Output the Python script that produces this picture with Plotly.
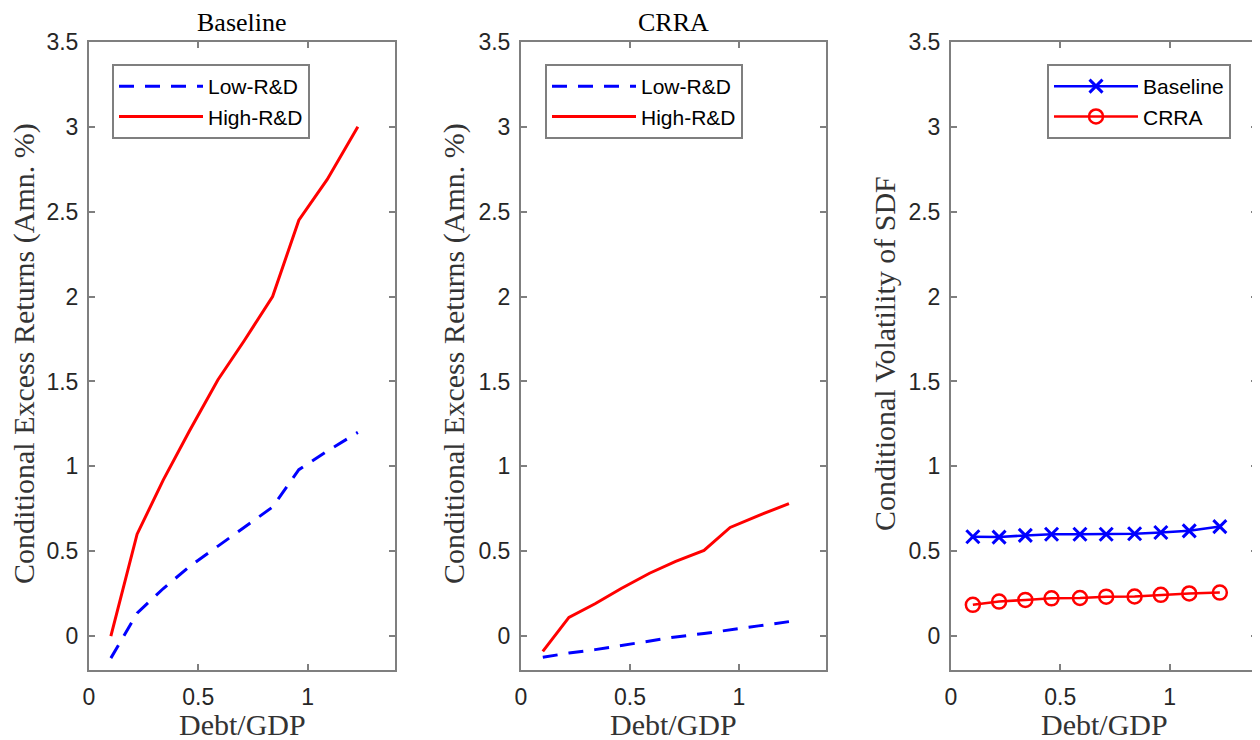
import plotly.graph_objects as go

debt_gdp = [0.10, 0.22, 0.34, 0.46, 0.59, 0.71, 0.84, 0.96, 1.09, 1.23]

# Panel 1: Baseline
base_low = [-0.13, 0.135, 0.28, 0.41, 0.53, 0.64, 0.76, 0.98, 1.09, 1.20]
base_high = [0.00, 0.60, 0.92, 1.21, 1.51, 1.74, 2.00, 2.45, 2.69, 3.00]

# Panel 2: CRRA
crra_low = [-0.125, -0.10, -0.08, -0.055, -0.03, -0.005, 0.015, 0.035, 0.06, 0.085]
crra_high = [-0.09, 0.11, 0.19, 0.28, 0.37, 0.44, 0.505, 0.64, 0.71, 0.78]

# Panel 3: Conditional volatility of SDF
vol_baseline = [0.585, 0.583, 0.593, 0.600, 0.600, 0.600, 0.603, 0.610, 0.620, 0.645]
vol_crra = [0.184, 0.203, 0.213, 0.222, 0.224, 0.232, 0.233, 0.243, 0.251, 0.256]

y_ticks = [0, 0.5, 1, 1.5, 2, 2.5, 3, 3.5]
y_tick_text = ["0", "0.5", "1", "1.5", "2", "2.5", "3", "3.5"]
x_ticks = [0, 0.5, 1]
x_tick_text = ["0", "0.5", "1"]

# page body has an 8px default margin: figure is drawn from (8, 8)
OFF = 8
W, H = 1260 - OFF, 740 - OFF
panels_px = [(89, 395), (521, 826), (951, 1257)]
top_px, bot_px = 42, 670

def px(x):
    return (x - OFF) / W

def py(y):
    return 1 - (y - OFF) / H

AX = "#7f7f7f"
TXT = "#262626"
SANS = "Liberation Sans, Arial, sans-serif"
SERIF = "Liberation Serif, Times New Roman, serif"

fig = go.Figure()

fig.add_trace(go.Scatter(x=debt_gdp, y=base_low, mode="lines", name="Low-R&D",
                         line=dict(color="#0000ff", width=3, dash="15px,11px"),
                         xaxis="x", yaxis="y", legend="legend"))
fig.add_trace(go.Scatter(x=debt_gdp, y=base_high, mode="lines", name="High-R&D",
                         line=dict(color="#ff0000", width=3),
                         xaxis="x", yaxis="y", legend="legend"))
fig.add_trace(go.Scatter(x=debt_gdp, y=crra_low, mode="lines", name="Low-R&D",
                         line=dict(color="#0000ff", width=3, dash="15px,11px"),
                         xaxis="x2", yaxis="y2", legend="legend2"))
fig.add_trace(go.Scatter(x=debt_gdp, y=crra_high, mode="lines", name="High-R&D",
                         line=dict(color="#ff0000", width=3),
                         xaxis="x2", yaxis="y2", legend="legend2"))
fig.add_trace(go.Scatter(x=debt_gdp, y=vol_baseline, mode="lines+markers", name="Baseline",
                         line=dict(color="#0000ff", width=2.5),
                         marker=dict(symbol="x-thin-open", size=13, color="#0000ff",
                                     line=dict(color="#0000ff", width=3)),
                         xaxis="x3", yaxis="y3", legend="legend3"))
fig.add_trace(go.Scatter(x=debt_gdp, y=vol_crra, mode="lines+markers", name="CRRA",
                         line=dict(color="#ff0000", width=2.5),
                         marker=dict(symbol="circle-open", size=14, color="#ff0000",
                                     line=dict(color="#ff0000", width=2.5)),
                         xaxis="x3", yaxis="y3", legend="legend3"))

ydom = [py(bot_px), py(top_px)]

def xaxis_cfg(i):
    l, r = panels_px[i]
    return dict(domain=[px(l), px(r)], range=[0, 1.4], tickvals=x_ticks, ticktext=x_tick_text,
                ticks="inside", ticklen=6, tickwidth=1.5, tickcolor=AX,
                showline=True, linecolor=AX, linewidth=2, mirror="allticks",
                showgrid=False, zeroline=False, ticklabelstandoff=5, automargin=False,
                tickfont=dict(family=SANS, size=23, color=TXT),
                anchor="y" if i == 0 else f"y{i+1}")

def yaxis_cfg(i):
    return dict(domain=ydom, range=[-0.2, 3.5], tickvals=y_ticks, ticktext=y_tick_text,
                ticks="inside", ticklen=6, tickwidth=1.5, tickcolor=AX,
                showline=True, linecolor=AX, linewidth=2, mirror="allticks",
                showgrid=False, zeroline=False, ticklabelstandoff=4, automargin=False,
                tickfont=dict(family=SANS, size=23, color=TXT),
                anchor="x" if i == 0 else f"x{i+1}")

layout = dict(width=W, height=H, margin=dict(l=0, r=0, t=0, b=0, autoexpand=False),
              paper_bgcolor="white", plot_bgcolor="white", showlegend=True)
for i in range(3):
    sfx = "" if i == 0 else str(i + 1)
    layout["xaxis" + sfx] = xaxis_cfg(i)
    layout["yaxis" + sfx] = yaxis_cfg(i)

leg_common = dict(bgcolor="white", bordercolor=AX, borderwidth=2,
                  font=dict(family=SANS, size=21, color="#000"),
                  itemwidth=84, tracegroupgap=0, xanchor="left", yanchor="top")
layout["legend"] = dict(leg_common, x=px(112), y=py(64))
layout["legend2"] = dict(leg_common, x=px(545), y=py(64))
layout["legend3"] = dict(leg_common, x=px(1047), y=py(64))

ann = []
titles = ["Baseline", "CRRA"]
for i, t in enumerate(titles):
    l, r = panels_px[i]
    ann.append(dict(text=t, x=px((l + r) / 2), y=py(23), xref="paper", yref="paper",
                    xanchor="center", yanchor="middle", showarrow=False,
                    font=dict(family=SERIF, size=26, color="#000")))
for i in range(3):
    l, r = panels_px[i]
    ann.append(dict(text="Debt/GDP", x=px((l + r) / 2), y=py(724), xref="paper", yref="paper",
                    xanchor="center", yanchor="middle", showarrow=False,
                    font=dict(family=SERIF, size=30, color="#333")))
ylabels = ["Conditional Excess Returns (Amn. %)", "Conditional Excess Returns (Amn. %)",
           "Conditional Volatility of SDF"]
ylabel_x = [24, 454, 884]
for i, t in enumerate(ylabels):
    ann.append(dict(text=t, x=px(ylabel_x[i]), y=py(354), xref="paper", yref="paper",
                    xanchor="center", yanchor="middle", textangle=-90, showarrow=False,
                    font=dict(family=SERIF, size=30, color="#333")))
layout["annotations"] = ann

fig.update_layout(**layout)
fig.write_html("out.html")
